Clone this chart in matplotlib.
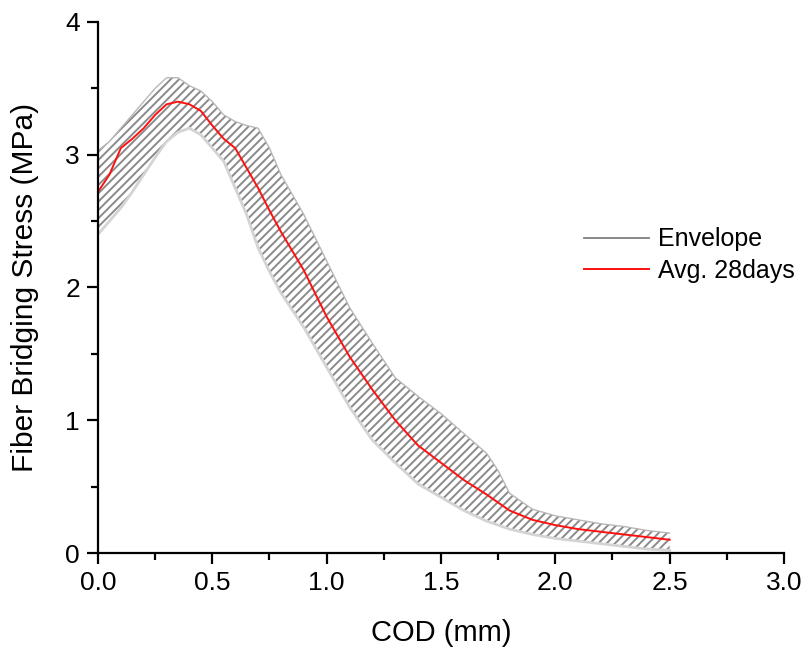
import matplotlib

matplotlib.use('Agg')

import matplotlib.pyplot as plt
from matplotlib.ticker import MultipleLocator, FormatStrFormatter

# COD (mm) sample points
cod = [0.0, 0.05, 0.1, 0.15, 0.2, 0.25, 0.3, 0.35, 0.4, 0.45, 0.5, 0.55, 0.6, 0.65,
       0.7, 0.75, 0.8, 0.9, 1.0, 1.1, 1.2, 1.3, 1.4, 1.5, 1.6, 1.7, 1.75, 1.8, 1.9,
       2.0, 2.1, 2.2, 2.3, 2.4, 2.5]

# envelope upper / lower bounds (MPa)
env_upper = [3.03, 3.1, 3.2, 3.3, 3.4, 3.5, 3.58, 3.58, 3.52, 3.48, 3.4, 3.3, 3.25, 3.22,
             3.2, 3.05, 2.85, 2.55, 2.2, 1.85, 1.58, 1.32, 1.18, 1.05, 0.9, 0.75, 0.62, 0.45, 0.33,
             0.28, 0.25, 0.22, 0.2, 0.17, 0.15]
env_lower = [2.4, 2.5, 2.6, 2.72, 2.85, 2.98, 3.1, 3.17, 3.2, 3.15, 3.05, 2.95, 2.75, 2.55,
             2.3, 2.12, 1.96, 1.7, 1.4, 1.1, 0.85, 0.68, 0.52, 0.42, 0.32, 0.24, 0.21, 0.18, 0.14,
             0.11, 0.09, 0.07, 0.05, 0.03, 0.02]

# average curve, 28 days
avg_28 = [2.72, 2.85, 3.05, 3.12, 3.2, 3.3, 3.38, 3.4, 3.38, 3.33, 3.22, 3.12, 3.05, 2.9,
          2.75, 2.58, 2.42, 2.13, 1.78, 1.48, 1.23, 1.0, 0.81, 0.68, 0.55, 0.44, 0.38, 0.32, 0.25,
          0.21, 0.18, 0.16, 0.14, 0.12, 0.1]

plt.rcParams['font.family'] = ['Liberation Sans', 'DejaVu Sans']
plt.rcParams['hatch.linewidth'] = 1.4
plt.rcParams['hatch.color'] = '#8a8a8a'

fig = plt.figure(figsize=(8.07, 6.54), dpi=100)
ax = fig.add_axes([0.1214, 0.1544, 0.8501, 0.812])

ax.fill_between(cod, env_lower, env_upper, facecolor='none', edgecolor='#8a8a8a',
                hatch='////', linewidth=0)
ax.plot(cod, env_upper, color='#b8b8b8', linewidth=1.0)
ax.plot(cod, env_lower, color='#d4d4d4', linewidth=2.0)
ax.plot([], [], color='#808080', linewidth=1.3, label='Envelope')
ax.plot(cod, avg_28, color='#ff1010', linewidth=1.4, label='Avg. 28days')

ax.set_xlim(0, 3.0)
ax.set_ylim(0, 4)
ax.xaxis.set_major_locator(MultipleLocator(0.5))
ax.xaxis.set_minor_locator(MultipleLocator(0.25))
ax.yaxis.set_major_locator(MultipleLocator(1))
ax.yaxis.set_minor_locator(MultipleLocator(0.5))
ax.xaxis.set_major_formatter(FormatStrFormatter('%.1f'))

for side in ['top', 'right']:
    ax.spines[side].set_visible(False)
for side in ['left', 'bottom']:
    ax.spines[side].set_linewidth(1.6)

ax.tick_params(which='major', direction='out', length=8, width=1.6, labelsize=19, pad=5)
ax.tick_params(which='minor', direction='out', length=5, width=1.6)

ax.set_xlabel('COD (mm)', fontsize=21, labelpad=17)
ax.set_ylabel('Fiber Bridging Stress (MPa)', fontsize=21.5, labelpad=19)

ax.legend(loc='center left', bbox_to_anchor=(0.69, 0.561), frameon=False, fontsize=18,
          handlelength=2.6, handletextpad=0.35, labelspacing=0.3, borderpad=0)

plt.savefig('out.png', dpi=100)
